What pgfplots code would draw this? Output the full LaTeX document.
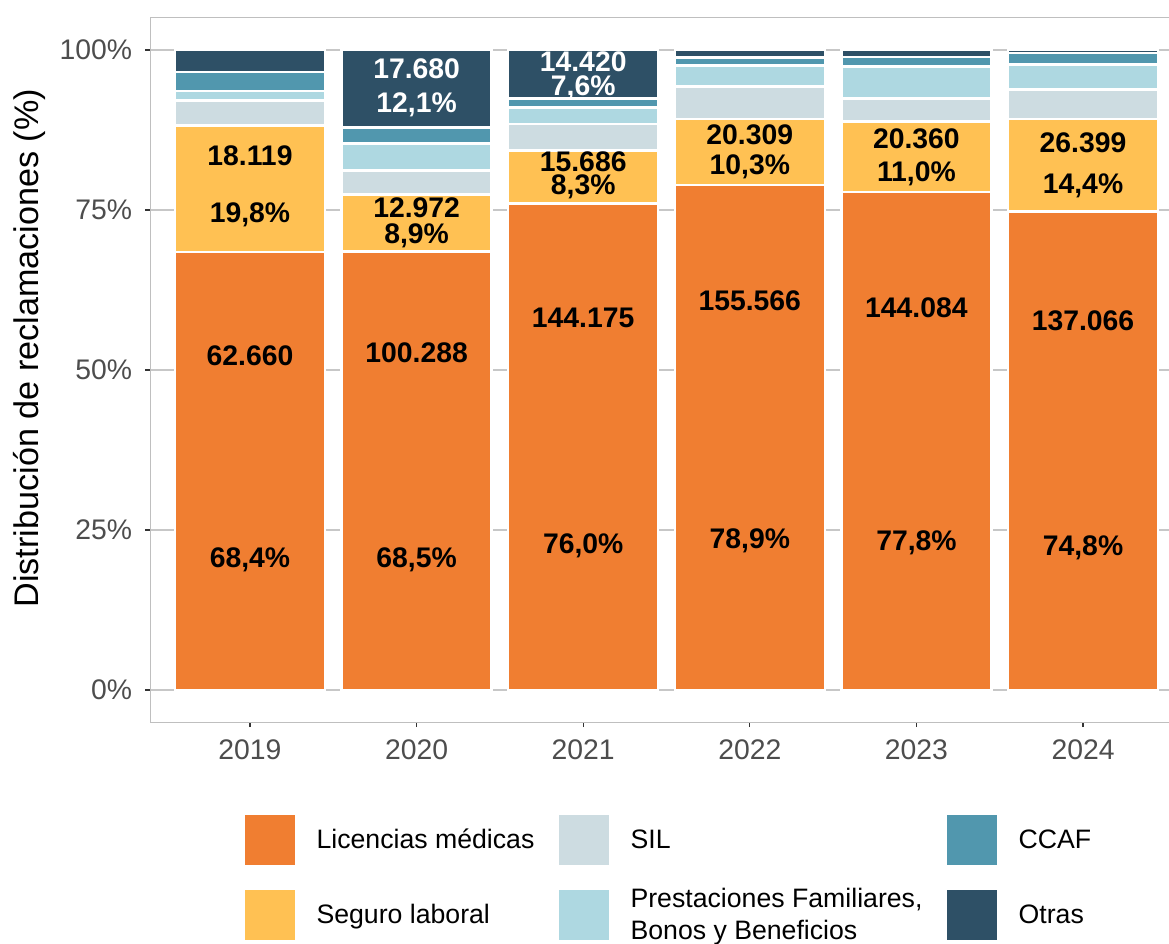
\documentclass[border=0pt]{standalone}
\usepackage{fontspec}
\setmainfont{Liberation Sans}
\usepackage{pgfplots}
\pgfplotsset{compat=1.18}
\definecolor{cLic}{HTML}{F07E31}
\definecolor{cSeg}{HTML}{FFC153}
\definecolor{cSIL}{HTML}{CDDCE1}
\definecolor{cPre}{HTML}{AED8E1}
\definecolor{cCCA}{HTML}{5197AE}
\definecolor{cOtr}{HTML}{2E5066}
\definecolor{tickgray}{HTML}{4D4D4D}
\pgfplotsset{
  mybar/.style={fill=#1, draw=white, line width=1.5pt,
    legend image code/.code={\path[draw=none,fill=none] (0pt,-21pt) rectangle (30pt,21pt);
      \fill[#1, draw=none] (0pt,-15pt) rectangle (30pt,15pt);}},
}
\tikzset{
  lab/.style={font=\fontsize{17}{20}\selectfont\bfseries, text=black, inner sep=0pt},
  labw/.style={font=\fontsize{17}{20}\selectfont\bfseries, text=white, inner sep=0pt},
}
\begin{document}
\begin{tikzpicture}[x=1pt,y=1pt]
\begin{axis}[
  at={(90pt,132.6pt)}, anchor=south west,
  scale only axis, width=619.8pt, height=422.4pt,
  xmin=-0.6, xmax=5.6, ymin=-5, ymax=105,
  ybar stacked, bar width=0.9,
  xtick={0,1,2,3,4,5}, xticklabels={2019,2020,2021,2022,2023,2024},
  ytick={0,25,50,75,100}, yticklabels={0\%,25\%,50\%,75\%,100\%},
  xtick pos=lower, ytick pos=left,
  tick align=outside, major tick length=3pt,
  tick style={color=black!80, line width=0.65pt},
  ymajorgrids, major grid style={color=black!22, line width=1.6pt},
  axis line style={color=black!25, line width=0.6pt},
  ticklabel style={font=\fontsize{17}{20}\selectfont, text=tickgray},
  yticklabel style={xshift=-4.2pt},
  xticklabel style={yshift=-4.2pt},
  /pgf/number format/assume math mode=true,
  ylabel={Distribución de reclamaciones (\%)},
  ylabel style={font=\fontsize{20.5}{24}\selectfont, at={(axis description cs:-0.1171,0.531)}, anchor=center},
  legend columns=2, transpose legend,
  legend cell align=left,
  legend style={at={(axis description cs:0.0920,-0.1179)}, anchor=north west,
    draw=none, fill=none, inner sep=0pt, outer sep=0pt,
    font=\fontsize{16}{19}\selectfont,
    nodes={inner sep=0pt, align=left},
    /tikz/every odd column/.append style={column sep=12.9pt},
    /tikz/every even column/.append style={column sep=14.8pt},
    row sep=3pt},
]
\addplot[mybar=cLic] coordinates {(0,68.4) (1,68.5) (2,76.0) (3,78.9) (4,77.8) (5,74.8)};
\addlegendentry{Licencias médicas}
\addplot[mybar=cSeg] coordinates {(0,19.8) (1,8.9) (2,8.3) (3,10.3) (4,11.0) (5,14.4)};
\addlegendentry{Seguro laboral}
\addplot[mybar=cSIL] coordinates {(0,3.9) (1,3.8) (2,4.1) (3,5.1) (4,3.6) (5,4.6)};
\addlegendentry{SIL}
\addplot[mybar=cPre] coordinates {(0,1.5) (1,4.2) (2,2.6) (3,3.3) (4,5.0) (5,3.9)};
\addlegendentry{Prestaciones Familiares,\\Bonos y Beneficios}
\addplot[mybar=cCCA] coordinates {(0,3.0) (1,2.5) (2,1.4) (3,1.2) (4,1.5) (5,1.8)};
\addlegendentry{CCAF}
\addplot[mybar=cOtr] coordinates {(0,3.4) (1,12.1) (2,7.6) (3,1.2) (4,1.1) (5,0.5)};
\addlegendentry{Otras}
% label anchors
\coordinate (a1) at (axis cs:0,52.3);
\coordinate (a2) at (axis cs:0,20.3);
\coordinate (a3) at (axis cs:0,83.4);
\coordinate (a4) at (axis cs:0,74.2);
\coordinate (b1) at (axis cs:1,52.7);
\coordinate (b2) at (axis cs:1,20.3);
\coordinate (b3) at (axis cs:1,75.3);
\coordinate (b4) at (axis cs:1,70.9);
\coordinate (b5) at (axis cs:1,97.0);
\coordinate (b6) at (axis cs:1,91.4);
\coordinate (c1) at (axis cs:2,58.1);
\coordinate (c2) at (axis cs:2,22.5);
\coordinate (c3) at (axis cs:2,82.5);
\coordinate (c4) at (axis cs:2,78.6);
\coordinate (c5) at (axis cs:2,98.1);
\coordinate (c6) at (axis cs:2,94.1);
\coordinate (d1) at (axis cs:3,60.8);
\coordinate (d2) at (axis cs:3,23.3);
\coordinate (d3) at (axis cs:3,86.7);
\coordinate (d4) at (axis cs:3,81.7);
\coordinate (e1) at (axis cs:4,59.7);
\coordinate (e2) at (axis cs:4,23.0);
\coordinate (e3) at (axis cs:4,86.1);
\coordinate (e4) at (axis cs:4,80.6);
\coordinate (f1) at (axis cs:5,57.7);
\coordinate (f2) at (axis cs:5,22.2);
\coordinate (f3) at (axis cs:5,85.5);
\coordinate (f4) at (axis cs:5,78.75);
\end{axis}
\node[lab] at (a1) {62.660};
\node[lab] at (a2) {68,4\%};
\node[lab] at (a3) {18.119};
\node[lab] at (a4) {19,8\%};
\node[lab] at (b1) {100.288};
\node[lab] at (b2) {68,5\%};
\node[lab] at (b3) {12.972};
\node[lab] at (b4) {8,9\%};
\node[labw] at (b5) {17.680};
\node[labw] at (b6) {12,1\%};
\node[lab] at (c1) {144.175};
\node[lab] at (c2) {76,0\%};
\node[lab] at (c3) {15.686};
\node[lab] at (c4) {8,3\%};
\node[labw] at (c5) {14.420};
\node[labw] at (c6) {7,6\%};
\node[lab] at (d1) {155.566};
\node[lab] at (d2) {78,9\%};
\node[lab] at (d3) {20.309};
\node[lab] at (d4) {10,3\%};
\node[lab] at (e1) {144.084};
\node[lab] at (e2) {77,8\%};
\node[lab] at (e3) {20.360};
\node[lab] at (e4) {11,0\%};
\node[lab] at (f1) {137.066};
\node[lab] at (f2) {74,8\%};
\node[lab] at (f3) {26.399};
\node[lab] at (f4) {14,4\%};
\pgfresetboundingbox
\path (0pt,0pt) rectangle (701.4pt,565.8pt);
\end{tikzpicture}
\end{document}
